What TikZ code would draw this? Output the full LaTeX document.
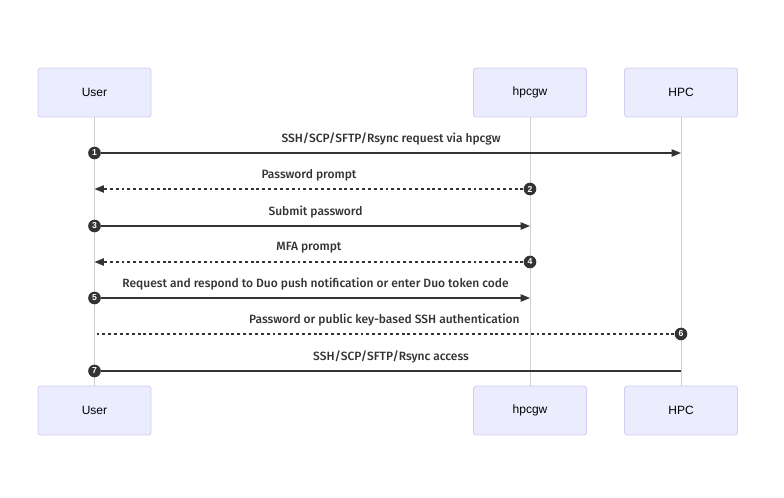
\documentclass[tikz,border=0pt]{standalone}
\usepackage{fontspec}
\setmainfont{Liberation Sans}
\newfontfamily\msgfont{Fira Sans}[UprightFont={* Medium}]
\usepackage{tikz}
\usetikzlibrary{arrows.meta,positioning}

\definecolor{actorfill}{HTML}{ECECFF}
\definecolor{actorline}{HTML}{D4CCF3}
\definecolor{lifegray}{HTML}{D0D0D0}
\definecolor{msggray}{HTML}{333333}

\begin{document}
\begin{tikzpicture}[x=0.75pt, y=-0.75pt,
  actor/.style={draw=actorline,fill=actorfill,rounded corners=2pt,line width=0.6pt,minimum width=84.75pt,minimum height=36.75pt,font=\fontsize{9}{11}\selectfont},
  lifeline/.style={draw=lifegray,line width=0.7pt},
  msg/.style={draw=msggray,line width=0.9pt},
  reply/.style={msg,dash pattern=on 2.2pt off 2.2pt},
  num/.style={circle,fill=msggray,text=white,inner sep=0pt,minimum size=9.5pt,font=\fontsize{6.5}{6.5}\selectfont\bfseries},
  lbl/.style={font=\msgfont\fontsize{9}{11}\selectfont,text=msggray,yshift=10.5pt},
  tip/.style={-{Triangle[length=7pt,width=5.5pt]}}]
\useasboundingbox (0,0) rectangle (784,497);
% actors, top and bottom
\node[actor] (user) at (94.5,92.5) {User};
\node[actor] (gw) at (530,92.5) {hpcgw};
\node[actor] (hpc) at (681,92.5) {HPC};
\node[actor] (userB) at (94.5,410.5) {User};
\node[actor] (gwB) at (530,410.5) {hpcgw};
\node[actor] (hpcB) at (681,410.5) {HPC};
\draw[lifeline] (user) -- (userB);
\draw[lifeline] (gw) -- (gwB);
\draw[lifeline] (hpc) -- (hpcB);
% messages
\node[num] (n1) at (user |- 0,153) {1};
\draw[msg,tip] (n1) -- node[lbl]{SSH/SCP/SFTP/Rsync request via hpcgw} (hpc |- n1);
\node[num] (n2) at (gw |- 0,189) {2};
\draw[reply,tip] (n2) -- node[lbl]{Password prompt} (user |- n2);
\node[num] (n3) at (user |- 0,226) {3};
\draw[msg,tip] (n3) -- node[lbl]{Submit password} (gw |- n3);
\node[num] (n4) at (gw |- 0,262) {4};
\draw[reply,tip] (n4) -- node[lbl]{MFA prompt} (user |- n4);
\node[num] (n5) at (user |- 0,298) {5};
\draw[msg,tip] (n5) -- node[lbl]{Request and respond to Duo push notification or enter Duo token code} (gw |- n5);
\node[num] (n6) at (hpc |- 0,334) {6};
\draw[reply] (n6) -- node[lbl]{Password or public key-based SSH authentication} (user |- n6);
\node[num] (n7) at (user |- 0,371) {7};
\draw[msg] (n7) -- node[lbl]{SSH/SCP/SFTP/Rsync access} (hpc |- n7);
\end{tikzpicture}
\end{document}
